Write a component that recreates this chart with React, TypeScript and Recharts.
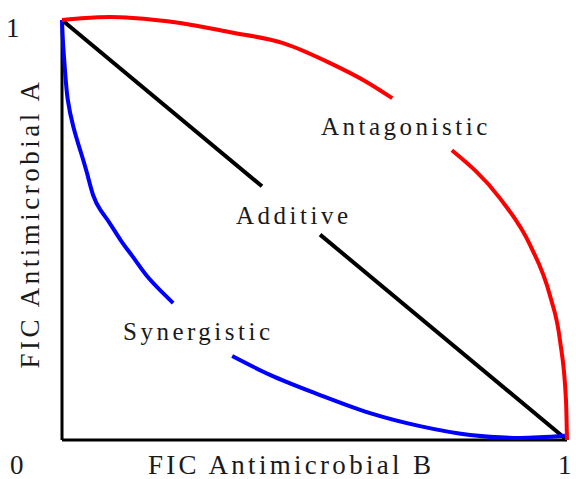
import { LineChart, Line, XAxis, YAxis, ReferenceLine } from 'recharts'

// curve segments, split where the labels sit
const antagonisticA = [
  { x: 0, y: 1 },
  { x: 0.047, y: 1.005 },
  { x: 0.095, y: 1.007 },
  { x: 0.14, y: 1.005 },
  { x: 0.234, y: 0.993 },
  { x: 0.333, y: 0.971 },
  { x: 0.438, y: 0.945 },
  { x: 0.53, y: 0.898 },
  { x: 0.604, y: 0.852 },
  { x: 0.654, y: 0.814 },
]
const antagonisticB = [
  { x: 0.772, y: 0.69 },
  { x: 0.867, y: 0.576 },
  { x: 0.927, y: 0.464 },
  { x: 0.966, y: 0.345 },
  { x: 0.986, y: 0.238 },
  { x: 0.998, y: 0.095 },
  { x: 1, y: 0 },
]
const additiveA = [
  { x: 0, y: 1 },
  { x: 0.396, y: 0.604 },
]
const additiveB = [
  { x: 0.511, y: 0.489 },
  { x: 1, y: 0 },
]
const synergisticA = [
  { x: 0, y: 1 },
  { x: 0.002, y: 0.94 },
  { x: 0.006, y: 0.881 },
  { x: 0.01, y: 0.81 },
  { x: 0.022, y: 0.745 },
  { x: 0.036, y: 0.69 },
  { x: 0.05, y: 0.636 },
  { x: 0.061, y: 0.579 },
  { x: 0.075, y: 0.548 },
  { x: 0.095, y: 0.517 },
  { x: 0.115, y: 0.476 },
  { x: 0.141, y: 0.436 },
  { x: 0.168, y: 0.388 },
  { x: 0.194, y: 0.357 },
  { x: 0.22, y: 0.326 },
]
const synergisticB = [
  { x: 0.337, y: 0.2 },
  { x: 0.412, y: 0.155 },
  { x: 0.511, y: 0.107 },
  { x: 0.61, y: 0.064 },
  { x: 0.709, y: 0.033 },
  { x: 0.808, y: 0.012 },
  { x: 0.907, y: 0.005 },
  { x: 0.996, y: 0.01 },
]

const font = '"Liberation Serif", "Times New Roman", serif'

const textStyle = (left: number, top: number, size: number, spacing: number) => ({
  position: 'absolute' as const,
  left,
  top,
  fontFamily: font,
  fontSize: size,
  letterSpacing: spacing,
  color: '#1a1a1a',
  lineHeight: 1,
  whiteSpace: 'nowrap' as const,
})

export default function App() {
  return (
    <div style={{ position: 'absolute', left: 0, top: 0, width: 576, height: 479, background: '#fff', overflow: 'hidden' }}>
      <LineChart
        width={576}
        height={479}
        margin={{ top: 11.6, right: 9, bottom: 39, left: 62 }}
      >
        <XAxis type="number" dataKey="x" domain={[0, 1]} hide height={0} />
        <YAxis type="number" dataKey="y" domain={[0, 1.02]} hide width={0} />
        <ReferenceLine
          segment={[{ x: 0, y: 0 }, { x: 0, y: 1 }]}
          stroke="#000"
          strokeWidth={3}
        />
        <ReferenceLine
          segment={[{ x: 0, y: 0 }, { x: 1, y: 0 }]}
          stroke="#000"
          strokeWidth={3}
        />
        <Line data={additiveA} dataKey="y" stroke="#000" strokeWidth={4} dot={false} isAnimationActive={false} />
        <Line data={additiveB} dataKey="y" stroke="#000" strokeWidth={4} dot={false} isAnimationActive={false} />
        <Line data={synergisticA} type="basis" dataKey="y" stroke="#0000ff" strokeWidth={4} dot={false} isAnimationActive={false} />
        <Line data={synergisticB} type="monotone" dataKey="y" stroke="#0000ff" strokeWidth={4} dot={false} isAnimationActive={false} />
        <Line data={antagonisticA} type="monotone" dataKey="y" stroke="#ff0000" strokeWidth={4} dot={false} isAnimationActive={false} />
        <Line data={antagonisticB} type="monotone" dataKey="y" stroke="#ff0000" strokeWidth={4} dot={false} isAnimationActive={false} />
      </LineChart>

      <div style={textStyle(321, 114, 25, 3.5)}>Antagonistic</div>
      <div style={textStyle(236, 203, 25, 3.5)}>Additive</div>
      <div style={textStyle(123, 319, 25, 3.5)}>Synergistic</div>

      <div style={textStyle(148, 452, 27, 3.3)}>FIC Antimicrobial B</div>
      <div
        style={{
          ...textStyle(-135, 210, 27, 3.5),
          width: 330,
          textAlign: 'center',
          transform: 'rotate(-90deg)',
        }}
      >
        FIC Antimicrobial A
      </div>

      <div style={textStyle(6, 15, 27, 0)}>1</div>
      <div style={textStyle(10, 452, 27, 0)}>0</div>
      <div style={textStyle(558, 452, 27, 0)}>1</div>
    </div>
  )
}
